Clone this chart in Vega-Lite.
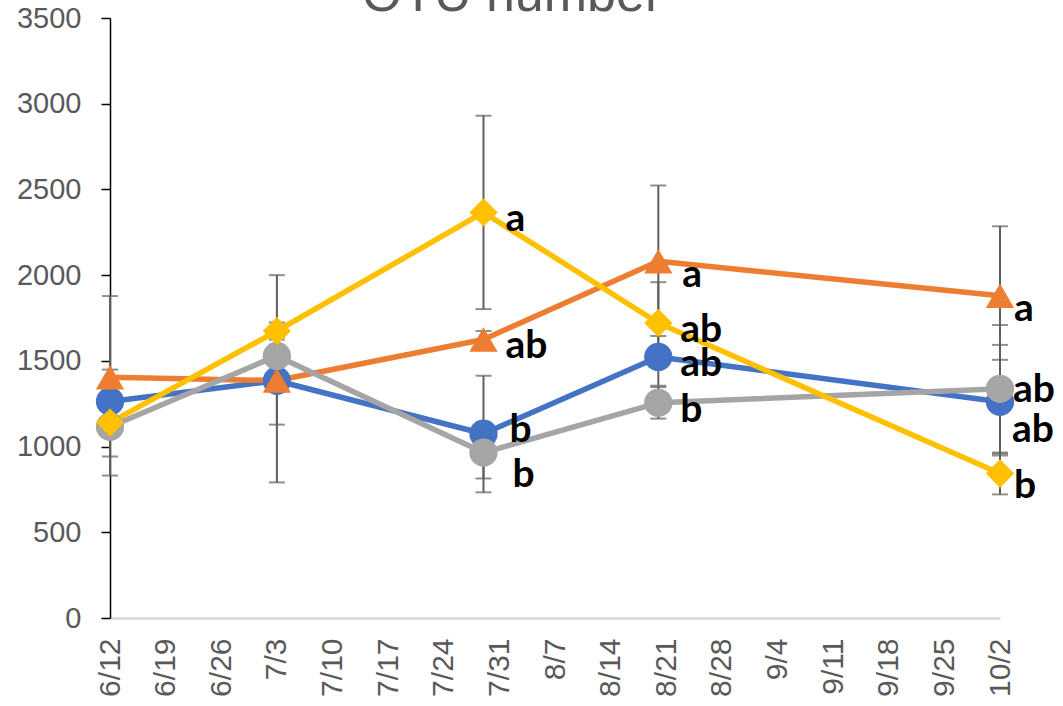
{
  "$schema": "https://vega.github.io/schema/vega-lite/v6.json",
  "autosize": {"type": "none"},
  "width": 890,
  "height": 600,
  "padding": {"left": 110, "top": 18, "right": 63, "bottom": 88},
  "background": "white",
  "config": {"view": {"stroke": null}},
  "title": {
    "text": "OTU number",
    "font": "Liberation Sans",
    "fontSize": 52,
    "fontWeight": "normal",
    "color": "#595959",
    "anchor": "middle",
    "baseline": "alphabetic",
    "offset": -59,
    "dx": -43
  },
  "data": {
    "format": {"parse": {"date": "date"}},
    "values": [
      {"series": "S1", "date": "2020-06-12", "mean": 1263, "lo": 1213, "hi": 1313, "sig": ""},
      {"series": "S1", "date": "2020-07-03", "mean": 1384, "lo": 1128, "hi": 1640, "sig": ""},
      {"series": "S1", "date": "2020-07-29", "mean": 1075, "lo": 733, "hi": 1413, "sig": "b"},
      {"series": "S1", "date": "2020-08-20", "mean": 1523, "lo": 1355, "hi": 1691, "sig": "ab"},
      {"series": "S1", "date": "2020-10-02", "mean": 1262, "lo": 948, "hi": 1593, "sig": "ab"},
      {"series": "S2", "date": "2020-06-12", "mean": 1405, "lo": 942, "hi": 1878, "sig": ""},
      {"series": "S2", "date": "2020-07-03", "mean": 1385, "lo": 791, "hi": 2000, "sig": ""},
      {"series": "S2", "date": "2020-07-29", "mean": 1625, "lo": 1576, "hi": 1674, "sig": "ab"},
      {"series": "S2", "date": "2020-08-20", "mean": 2081, "lo": 1645, "hi": 2523, "sig": "a"},
      {"series": "S2", "date": "2020-10-02", "mean": 1880, "lo": 1506, "hi": 2285, "sig": "a"},
      {"series": "S3", "date": "2020-06-12", "mean": 1116, "lo": 1066, "hi": 1166, "sig": ""},
      {"series": "S3", "date": "2020-07-03", "mean": 1529, "lo": 1479, "hi": 1579, "sig": ""},
      {"series": "S3", "date": "2020-07-29", "mean": 965, "lo": 814, "hi": 1116, "sig": "b"},
      {"series": "S3", "date": "2020-08-20", "mean": 1255, "lo": 1163, "hi": 1347, "sig": "b"},
      {"series": "S3", "date": "2020-10-02", "mean": 1337, "lo": 959, "hi": 1709, "sig": "ab"},
      {"series": "S4", "date": "2020-06-12", "mean": 1140, "lo": 831, "hi": 1449, "sig": ""},
      {"series": "S4", "date": "2020-07-03", "mean": 1674, "lo": 1624, "hi": 1724, "sig": ""},
      {"series": "S4", "date": "2020-07-29", "mean": 2366, "lo": 1802, "hi": 2930, "sig": "a"},
      {"series": "S4", "date": "2020-08-20", "mean": 1721, "lo": 1483, "hi": 1959, "sig": "ab"},
      {"series": "S4", "date": "2020-10-02", "mean": 843, "lo": 721, "hi": 965, "sig": "b"}
    ]
  },
  "encoding": {
    "x": {
      "field": "date",
      "type": "temporal",
      "scale": {
        "type": "utc",
        "domain": [
          {"year": 2020, "month": 6, "date": 12, "utc": true},
          {"year": 2020, "month": 10, "date": 2, "utc": true}
        ]
      },
      "axis": {
        "title": null,
        "format": "%-m/%-d",
        "values": [
          {"year": 2020, "month": 6, "date": 12, "utc": true},
          {"year": 2020, "month": 6, "date": 19, "utc": true},
          {"year": 2020, "month": 6, "date": 26, "utc": true},
          {"year": 2020, "month": 7, "date": 3, "utc": true},
          {"year": 2020, "month": 7, "date": 10, "utc": true},
          {"year": 2020, "month": 7, "date": 17, "utc": true},
          {"year": 2020, "month": 7, "date": 24, "utc": true},
          {"year": 2020, "month": 7, "date": 31, "utc": true},
          {"year": 2020, "month": 8, "date": 7, "utc": true},
          {"year": 2020, "month": 8, "date": 14, "utc": true},
          {"year": 2020, "month": 8, "date": 21, "utc": true},
          {"year": 2020, "month": 8, "date": 28, "utc": true},
          {"year": 2020, "month": 9, "date": 4, "utc": true},
          {"year": 2020, "month": 9, "date": 11, "utc": true},
          {"year": 2020, "month": 9, "date": 18, "utc": true},
          {"year": 2020, "month": 9, "date": 25, "utc": true},
          {"year": 2020, "month": 10, "date": 2, "utc": true}
        ],
        "labelAngle": 270,
        "labelAlign": "right",
        "labelBaseline": "middle",
        "labelFont": "Liberation Sans",
        "labelFontSize": 30,
        "labelColor": "#595959",
        "labelPadding": 20,
        "labelOverlap": false,
        "labelFlush": false,
        "ticks": false,
        "tickSize": 0,
        "grid": false,
        "domainColor": "#d9d9d9",
        "domainWidth": 2.5
      }
    }
  },
  "layer": [
    {
      "mark": {
        "type": "errorbar",
        "color": "#5f5f5f",
        "thickness": 2,
        "ticks": {"size": 16, "thickness": 2}
      },
      "encoding": {
        "y": {"field": "lo", "type": "quantitative", "title": null},
        "y2": {"field": "hi"},
        "detail": {"field": "series"}
      }
    },
    {
      "mark": {"type": "line", "strokeWidth": 5.5, "strokeJoin": "round", "strokeCap": "round"},
      "encoding": {
        "y": {
          "field": "mean",
          "type": "quantitative",
          "scale": {"domain": [0, 3500], "nice": false},
          "axis": {
            "title": null,
            "format": "d",
            "values": [0, 500, 1000, 1500, 2000, 2500, 3000, 3500],
            "grid": false,
            "labelFont": "Liberation Sans",
            "labelFontSize": 29,
            "labelColor": "#595959",
            "labelPadding": 20,
            "labelFlush": false,
            "tickColor": "#000000",
            "tickWidth": 1.5,
            "tickSize": 9,
            "domainColor": "#000000",
            "domainWidth": 1.5
          }
        },
        "color": {
          "field": "series",
          "type": "nominal",
          "scale": {"domain": ["S1", "S2", "S3", "S4"], "range": ["#4472C4", "#ED7D31", "#A5A5A5", "#FFC000"]},
          "legend": null
        }
      }
    },
    {
      "mark": {"type": "point", "filled": true, "opacity": 1, "size": 800},
      "encoding": {
        "y": {"field": "mean", "type": "quantitative"},
        "color": {"field": "series", "type": "nominal", "legend": null},
        "shape": {
          "field": "series",
          "type": "nominal",
          "scale": {"domain": ["S1", "S2", "S3", "S4"], "range": ["circle", "triangle-up", "circle", "diamond"]},
          "legend": null
        }
      }
    },
    {
      "encoding": {
        "y": {"field": "mean", "type": "quantitative"},
        "text": {"field": "sig"}
      },
      "layer": [
        {
          "transform": [{"filter": "indexof(['S4 7/29', 'S2 7/29', 'S4 8/20', 'S1 8/20', 'S3 8/20'], datum.series + ' ' + utcFormat(datum.date, '%-m/%-d')) >= 0"}],
          "mark": {"type": "text", "font": "Lato", "fontWeight": "bold", "fontSize": 39, "color": "#000000", "align": "left", "baseline": "alphabetic", "dx": 22, "dy": 19}
        },
        {
          "transform": [{"filter": "indexof(['S1 7/29'], datum.series + ' ' + utcFormat(datum.date, '%-m/%-d')) >= 0"}],
          "mark": {"type": "text", "font": "Lato", "fontWeight": "bold", "fontSize": 39, "color": "#000000", "align": "left", "baseline": "alphabetic", "dx": 26, "dy": 8}
        },
        {
          "transform": [{"filter": "indexof(['S3 7/29'], datum.series + ' ' + utcFormat(datum.date, '%-m/%-d')) >= 0"}],
          "mark": {"type": "text", "font": "Lato", "fontWeight": "bold", "fontSize": 39, "color": "#000000", "align": "left", "baseline": "alphabetic", "dx": 29, "dy": 34}
        },
        {
          "transform": [{"filter": "indexof(['S2 8/20'], datum.series + ' ' + utcFormat(datum.date, '%-m/%-d')) >= 0"}],
          "mark": {"type": "text", "font": "Lato", "fontWeight": "bold", "fontSize": 39, "color": "#000000", "align": "left", "baseline": "alphabetic", "dx": 24, "dy": 26}
        },
        {
          "transform": [{"filter": "indexof(['S2 10/2', 'S4 10/2'], datum.series + ' ' + utcFormat(datum.date, '%-m/%-d')) >= 0"}],
          "mark": {"type": "text", "font": "Lato", "fontWeight": "bold", "fontSize": 39, "color": "#000000", "align": "left", "baseline": "alphabetic", "dx": 14, "dy": 25}
        },
        {
          "transform": [{"filter": "indexof(['S3 10/2'], datum.series + ' ' + utcFormat(datum.date, '%-m/%-d')) >= 0"}],
          "mark": {"type": "text", "font": "Lato", "fontWeight": "bold", "fontSize": 39, "color": "#000000", "align": "left", "baseline": "alphabetic", "dx": 13, "dy": 13}
        },
        {
          "transform": [{"filter": "indexof(['S1 10/2'], datum.series + ' ' + utcFormat(datum.date, '%-m/%-d')) >= 0"}],
          "mark": {"type": "text", "font": "Lato", "fontWeight": "bold", "fontSize": 39, "color": "#000000", "align": "left", "baseline": "alphabetic", "dx": 12, "dy": 40}
        }
      ]
    }
  ]
}
